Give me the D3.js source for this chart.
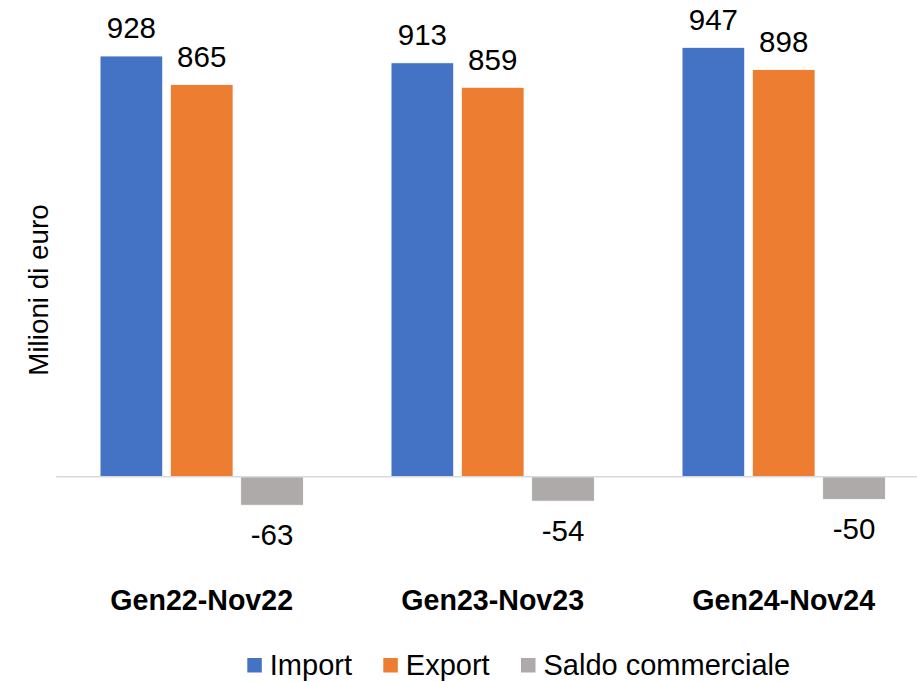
<!DOCTYPE html>
<html>
<head>
<meta charset="utf-8">
<script src="https://cdn.jsdelivr.net/npm/d3@7"></script>
<style>
  html, body { margin: 0; padding: 0; background: #fff; }
  svg { display: block; font-family: "Liberation Sans", Arial, sans-serif; }
</style>
</head>
<body>
<svg id="chart" width="917" height="682"></svg>
<script>
const categories = ["Gen22-Nov22", "Gen23-Nov23", "Gen24-Nov24"];
const seriesNames = ["Import", "Export", "Saldo commerciale"];
const importValues = [928, 913, 947];
const exportValues = [865, 859, 898];
const saldoValues = [-63, -54, -50];
const colors = ["#4472C4", "#ED7D31", "#AEAAAA"];

const seriesValues = [importValues, exportValues, saldoValues];

const svg = d3.select("#chart");

const x0 = d3.scaleBand().domain(categories).range([56.2, 929.2]).paddingInner(0).paddingOuter(0);
const x1 = d3.scaleBand().domain(seriesNames).range([0, x0.bandwidth()]).paddingInner(0.1095).paddingOuter(0.624);
const y = d3.scaleLinear().domain([-100, 1000]).range([522.0, 23.4]);

const rows = [];
categories.forEach((c, i) => {
  seriesNames.forEach((s, j) => {
    rows.push({cat: c, series: s, value: seriesValues[j][i], color: colors[j]});
  });
});

svg.append("g").selectAll("rect").data(rows).join("rect")
  .attr("x", d => x0(d.cat) + x1(d.series))
  .attr("width", x1.bandwidth())
  .attr("y", d => y(Math.max(0, d.value)))
  .attr("height", d => Math.abs(y(d.value) - y(0)))
  .attr("fill", d => d.color)
  .attr("stroke", "#fff")
  .attr("stroke-width", 0.75);

svg.append("line")
  .attr("x1", x0.range()[0]).attr("x2", x0.range()[1])
  .attr("y1", y(0)).attr("y2", y(0))
  .attr("stroke", "#D9D9D9").attr("stroke-width", 1.5);

svg.append("g").selectAll("text").data(rows).join("text")
  .attr("x", d => x0(d.cat) + x1(d.series) + x1.bandwidth() / 2)
  .attr("y", d => d.value >= 0 ? y(d.value) - 17.7 : y(d.value) + 40)
  .attr("text-anchor", "middle")
  .attr("font-size", 29.5)
  .attr("fill", "#000")
  .text(d => d.value);

svg.append("g").selectAll("text").data(categories).join("text")
  .attr("x", d => x0(d) + x0.bandwidth() / 2)
  .attr("y", 610)
  .attr("text-anchor", "middle")
  .attr("font-size", 28.6)
  .attr("font-weight", "bold")
  .attr("fill", "#000")
  .text(d => d);

svg.append("text")
  .attr("transform", "translate(48,290) rotate(-90)")
  .attr("text-anchor", "middle")
  .attr("font-size", 27.8)
  .attr("fill", "#000")
  .text("Milioni di euro");

const legendX = [247.3, 383.3, 521];
const legend = svg.append("g").selectAll("g").data(seriesNames).join("g")
  .attr("transform", (d, i) => `translate(${legendX[i]},658)`);
legend.append("rect").attr("width", 14.5).attr("height", 14.5).attr("fill", (d, i) => colors[i]);
legend.append("text").attr("x", 22.5).attr("y", 16.5).attr("font-size", 29).attr("fill", "#000").text(d => d);
</script>
</body>
</html>
